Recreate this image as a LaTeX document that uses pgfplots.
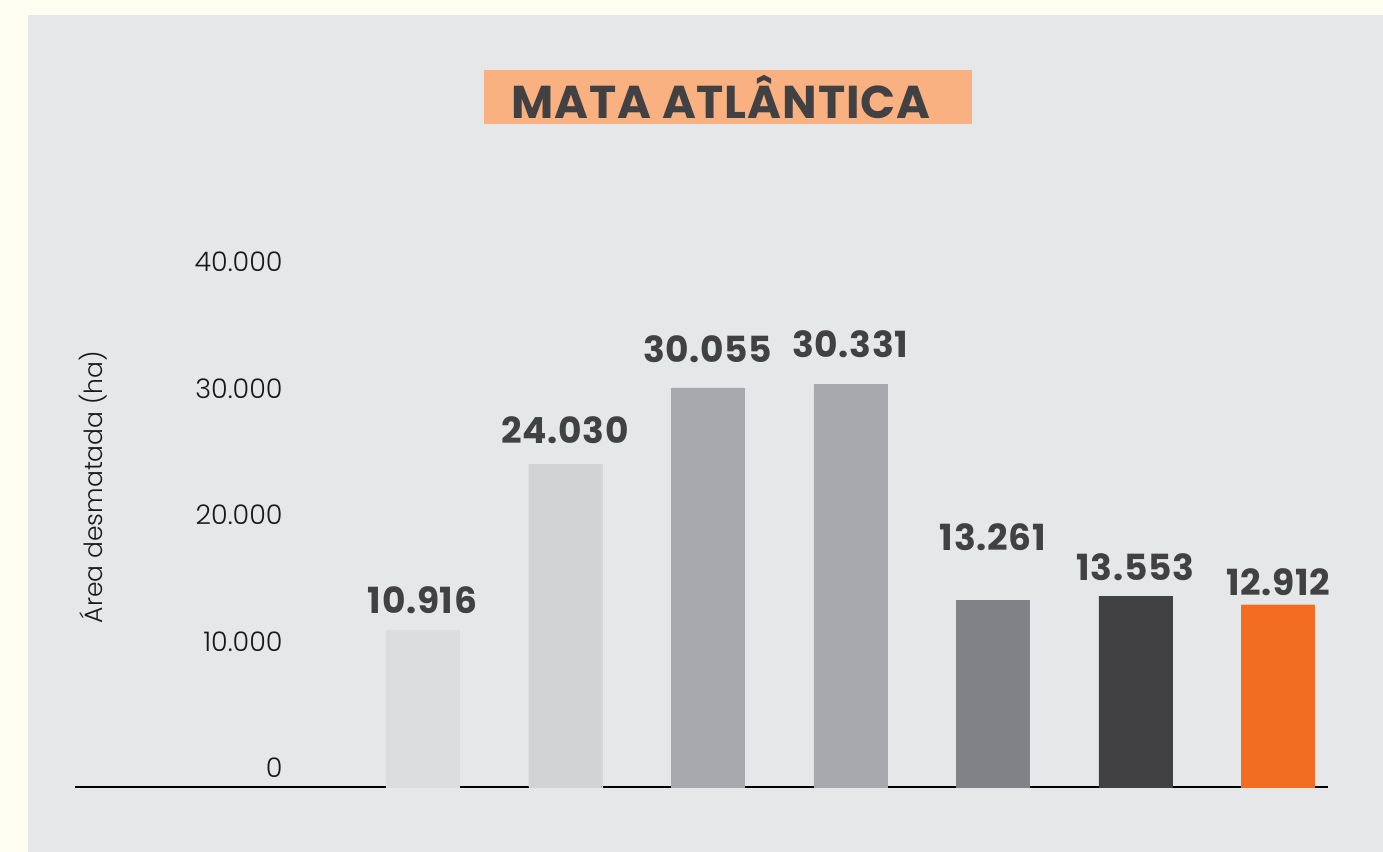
\documentclass[border=0pt]{standalone}
\usepackage{fontspec}
\setmainfont{Poppins}
\newfontfamily\lightfont{Poppins Light}
\usepackage{pgfplots}
\pgfplotsset{compat=1.18}
\definecolor{cream}{HTML}{FFFEF2}
\definecolor{panel}{HTML}{E6E7E8}
\definecolor{titlebox}{HTML}{F9B182}
\definecolor{darktxt}{HTML}{414042}
\definecolor{b1}{HTML}{DCDDDE}
\definecolor{b2}{HTML}{D1D3D4}
\definecolor{b3}{HTML}{A7A9AC}
\definecolor{b5}{HTML}{808285}
\definecolor{b6}{HTML}{414042}
\definecolor{b7}{HTML}{F26D21}
\begin{document}
\begin{tikzpicture}
\useasboundingbox (0,0) rectangle (691.5pt,426pt);
\fill[cream] (0,0) rectangle (691.5pt,426pt);
\fill[panel] (14pt,0) rectangle (691.5pt,418.5pt);
\fill[titlebox] (242pt,364pt) rectangle (486pt,391pt);
\node[font=\bfseries\fontsize{23}{25}\selectfont\addfontfeature{LetterSpace=2}, text=darktxt] at (360.5pt,377.5pt) {MATA ATLÂNTICA};
\begin{axis}[
  at={(37.5pt,32.5pt)}, anchor=south west,
  scale only axis, width=626.5pt, height=262.5pt,
  xmin=-1.437, xmax=7.35, ymin=-1500, ymax=40000,
  clip=false,
  ybar, bar width=36.5pt, bar shift=0pt,
  axis x line=bottom, axis y line=left,
  x axis line style={-, black, line width=0.6pt},
  y axis line style={draw=none},
  major tick length=0pt,
  xtick=\empty,
  ytick={0,10000,20000,30000,40000},
  scaled y ticks=false,
  /pgf/number format/.cd, 1000 sep={.}, assume math mode=true, /pgfplots/.cd,
  yticklabel style={anchor=east, xshift=104pt, inner sep=0pt,
    font=\lightfont\fontsize{13.5}{15}\selectfont, text=black!90},
  point meta=explicit symbolic,
  nodes near coords,
  nodes near coords style={anchor=center, text=darktxt,
    font=\bfseries\fontsize{18}{20}\selectfont\addfontfeature{LetterSpace=2}},
]
% each bar: its value, plus a short same-coloured piece below zero down to the axis line
\addplot[fill=b1, draw=b1, line width=0.1pt, nodes near coords style={yshift=15pt}]
  coordinates {(1,10916)[10.916] (1,-1500)[]};
\addplot[fill=b2, draw=b2, line width=0.1pt, nodes near coords style={yshift=17pt}]
  coordinates {(2,24030)[24.030] (2,-1500)[]};
\addplot[fill=b3, draw=b3, line width=0.1pt, nodes near coords style={yshift=19.5pt}]
  coordinates {(3,30055)[30.055] (3,-1500)[]};
\addplot[fill=b3, draw=b3, line width=0.1pt, nodes near coords style={yshift=20pt}]
  coordinates {(4,30331)[30.331] (4,-1500)[]};
\addplot[fill=b5, draw=b5, line width=0.1pt, nodes near coords style={yshift=31.5pt}]
  coordinates {(5,13261)[13.261] (5,-1500)[]};
\addplot[fill=b6, draw=b6, line width=0.1pt, nodes near coords style={yshift=14.75pt}]
  coordinates {(6,13553)[13.553] (6,-1500)[]};
\addplot[fill=b7, draw=b7, line width=0.1pt, nodes near coords style={yshift=11.4pt}]
  coordinates {(7,12912)[12.912] (7,-1500)[]};
\end{axis}
\node[rotate=90, font=\lightfont\fontsize{12.5}{14}\selectfont, text=black!90] at (46.5pt,182.5pt) {Área desmatada (ha)};
\end{tikzpicture}
\end{document}
